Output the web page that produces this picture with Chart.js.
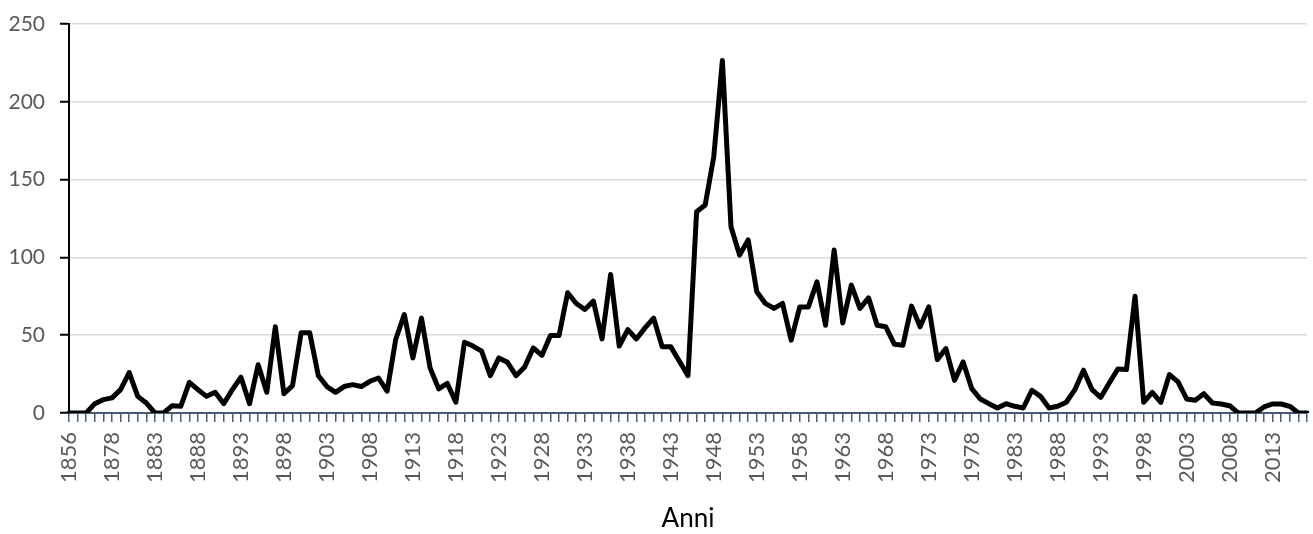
<!DOCTYPE html>
<html>
<head>
<meta charset="utf-8">
<script src="https://cdn.jsdelivr.net/npm/chart.js@4/dist/chart.umd.min.js"></script>
<style>
  html, body { margin: 0; padding: 0; background: #fff; }
  #wrap { width: 1313px; height: 534px; }
</style>
</head>
<body>
<div id="wrap"><canvas id="chart" width="1313" height="534"></canvas></div>
<script>
// categories: 1856, then a continuous run 1874-2017
const firstYear = '1856';
const runStart = 1874;
const runEnd = 2017;
const years = [firstYear];
for (let y = runStart; y <= runEnd; y++) years.push(String(y));

const values = [
  0, 0, 0, 6, 8.6, 9.7, 15, 26, 10.7, 6.4,
  0, 0, 4.7, 4.3, 19.7, 15, 10.7, 13.3, 6, 15,
  23, 6, 31, 13.3, 55.4, 12.4, 17.6, 51.5, 51.5, 24,
  17, 13.3, 17, 18.2, 17, 20.4, 22.5, 14, 47.2, 63.3,
  35.4, 61, 29, 15.5, 19, 7, 45.5, 43, 39.7, 24,
  35.4, 32.6, 24, 29.6, 41.8, 37, 49.8, 49.8, 77.3, 70.4,
  66.5, 71.9, 47.6, 89, 43, 53.6, 47.6, 54.7, 61, 42.5,
  42.5, 33.3, 24, 129.4, 133.7, 164.8, 226.6, 119.7, 101.5, 111.2,
  77.9, 70.4, 67.2, 70.4, 46.8, 68.2, 68.2, 84.3, 56.4, 104.7,
  57.9, 82.2, 67.2, 74, 56.4, 55.4, 44.2, 43.6, 68.7, 55.4,
  68.2, 34.3, 41.4, 21, 32.8, 15.7, 9, 6, 3.2, 6,
  4.3, 3.2, 14.6, 10.7, 3.2, 4.3, 6.9, 15, 27.5, 15,
  10, 19.3, 28.3, 27.9, 75, 6.9, 13.3, 6.9, 24.7, 20,
  9, 8.2, 12.4, 6.4, 5.8, 4.7, 0, 0, 0, 3.9,
  5.8, 5.8, 4.3, 0, 0
];

const yTicks = [0, 50, 100, 150, 200, 250];
const xTitle = 'Anni';

const ctx = document.getElementById('chart').getContext('2d');

const chart = new Chart(ctx, {
  type: 'line',
  data: {
    labels: years,
    datasets: [{
      data: values,
      borderColor: '#000000',
      borderWidth: 5,
      borderJoinStyle: 'round',
      borderCapStyle: 'round',
      pointRadius: 0,
      tension: 0,
      fill: false
    }]
  },
  options: {
    responsive: false,
    animation: false,
    layout: { padding: { top: 24, right: 6, left: 0, bottom: 0 } },
    plugins: {
      legend: { display: false },
      tooltip: { enabled: false }
    },
    scales: {
      x: {
        type: 'category',
        offset: false,
        border: { color: '#4a5a72', width: 2 },
        grid: {
          drawOnChartArea: false,
          drawTicks: true,
          tickLength: 9,
          color: '#4a5a72',
          lineWidth: 1.5
        },
        ticks: {
          autoSkip: false,
          minRotation: 90,
          maxRotation: 90,
          padding: 10,
          color: '#595959',
          font: { family: 'Lato', size: 22 },
          callback: function (val, index) {
            return index % 5 === 0 ? this.getLabelForValue(val) : '';
          }
        },
        title: {
          display: true,
          text: xTitle,
          color: '#000000',
          font: { family: 'Lato', size: 26 },
          padding: { top: 0, bottom: 0 }
        },
        afterFit: function (scale) {
          scale.height = 121;
          scale.paddingLeft = 0;
          scale.paddingRight = 0;
        }
      },
      y: {
        min: yTicks[0],
        max: yTicks[yTicks.length - 1],
        border: { color: '#000000', width: 2 },
        grid: {
          color: '#d9d9d9',
          lineWidth: 1.5,
          tickColor: '#000000',
          tickWidth: 2,
          tickLength: 9
        },
        afterBuildTicks: function (scale) {
          scale.ticks = yTicks.map(v => ({ value: v }));
        },
        ticks: {
          padding: 15,
          color: '#595959',
          font: { family: 'Lato', size: 21 }
        },
        afterFit: function (scale) {
          scale.width = 69;
          scale.paddingTop = 0;
          scale.paddingBottom = 0;
        }
      }
    }
  }
});
</script>
</body>
</html>
